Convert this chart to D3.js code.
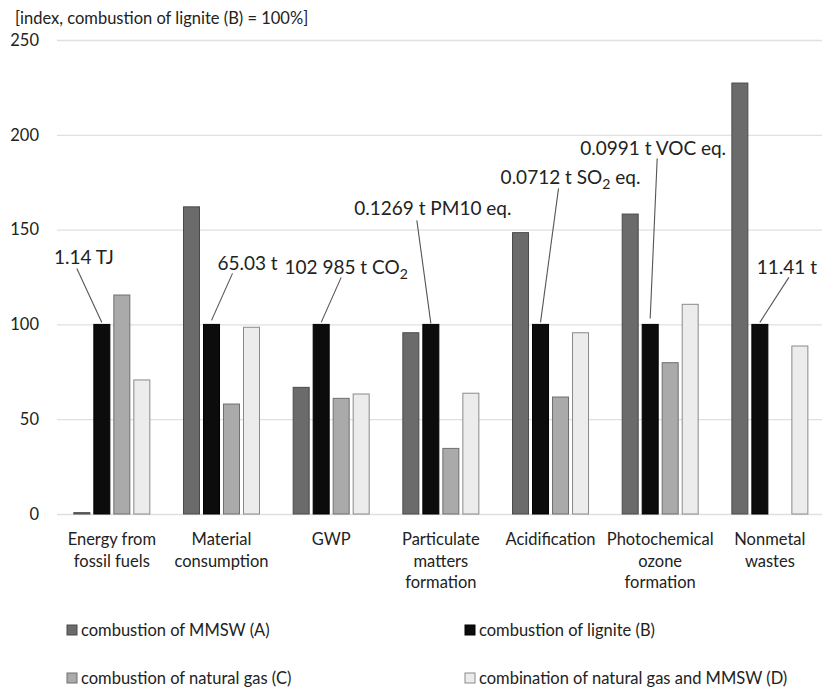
<!DOCTYPE html>
<html>
<head>
<meta charset="utf-8">
<script src="https://cdn.jsdelivr.net/npm/d3@7"></script>
<style>
  body { margin: 0; background: #fff; }
  text { font-family: Lato, "Open Sans", sans-serif; fill: #222; }
</style>
</head>
<body>
<div id="chart"></div>
<script>
// chart data
var categories = [
  ["Energy from", "fossil fuels"],
  ["Material", "consumption"],
  ["GWP"],
  ["Particulate", "matters", "formation"],
  ["Acidification"],
  ["Photochemical", "ozone", "formation"],
  ["Nonmetal", "wastes"]
];
var seriesNames = [
  "combustion of MMSW (A)",
  "combustion of lignite (B)",
  "combustion of natural gas (C)",
  "combination of natural gas and MMSW (D)"
];
var mmswValues = [0.7, 162, 66.8, 95.6, 148.4, 158.2, 227.3];
var ligniteValues = [100, 100, 100, 100, 100, 100, 100];
var gasValues = [115.5, 58, 61, 34.6, 61.7, 79.8, 0];
var mixValues = [70.7, 98.5, 63.3, 63.7, 95.6, 110.6, 88.6];
var yTicks = [0, 50, 100, 150, 200, 250];
// reference amounts written above the lignite bars
var refLabels = [
  ["1.14 TJ"],
  ["65.03 t"],
  ["102 985 t CO", "2", ""],
  ["0.1269 t PM10 eq."],
  ["0.0712 t SO", "2", " eq."],
  ["0.0991 t VOC eq."],
  ["11.41 t"]
];

var allValues = [mmswValues, ligniteValues, gasValues, mixValues];
var fills = ["#6b6b6b", "#0c0c0c", "#aaaaaa", "#ececec"];
var strokes = ["#4a4a4a", "#000", "#6f6f6f", "#8a8a8a"];

var svgWidth = 822;
var svgHeight = 688;

var svg = d3
  .select("#chart")
  .append("svg")
  .attr("width", svgWidth)
  .attr("height", svgHeight);

// scales
var xScale = d3
  .scaleBand()
  .domain(d3.range(categories.length))
  .range([57, 824.7]);

var x1 = d3
  .scaleBand()
  .domain(d3.range(seriesNames.length))
  .range([xScale.bandwidth() / 2 - 40, xScale.bandwidth() / 2 + 40])
  .paddingInner(0.2)
  .paddingOuter(0.1);

var yScale = d3.scaleLinear().domain([0, 250]).range([514, 40]);

// gridlines + y labels
var yAxis = svg
  .append("g")
  .attr("transform", "translate(57,0)")
  .call(
    d3.axisLeft(yScale)
      .tickValues(yTicks)
      .tickSize(-(svgWidth - 57))
      .tickPadding(18)
  );
yAxis.select(".domain").remove();
yAxis.selectAll(".tick line").attr("stroke", "#e0e0e0").attr("stroke-width", 1.3);
yAxis
  .selectAll(".tick text")
  .attr("font-size", 16.5)
  .attr("font-family", "Lato, sans-serif")
  .attr("fill", "#222");

svg
  .append("text")
  .attr("x", 15)
  .attr("y", 24)
  .attr("font-size", 16.5)
  .text("[index, combustion of lignite (B) = 100%]");

// bars
var groups = svg
  .selectAll("g.group")
  .data(categories)
  .enter()
  .append("g")
  .attr("class", "group")
  .attr("transform", (d, i) => `translate(${xScale(i)},0)`);

groups
  .selectAll("rect")
  .data((d, i) => allValues.map((vals, s) => ({ s: s, v: vals[i] })))
  .enter()
  .filter(d => d.v > 0)
  .append("rect")
  .attr("x", d => x1(d.s))
  .attr("width", x1.bandwidth())
  .attr("y", d => yScale(d.v))
  .attr("height", d => yScale(0) - yScale(d.v))
  .attr("fill", d => fills[d.s])
  .attr("stroke", d => strokes[d.s])
  .attr("stroke-width", 1);

// category labels
groups
  .append("text")
  .attr("text-anchor", "middle")
  .attr("font-size", 16.5)
  .selectAll("tspan")
  .data(d => d)
  .enter()
  .append("tspan")
  .attr("x", xScale.bandwidth() / 2)
  .attr("y", (d, i) => 545 + i * 21.5)
  .text(d => d);

// leader labels: [text dx, text dy, line start dx, line start dy, line end dy]
var leaderOffsets = [
  [-18, -67, -25, -56, -2],
  [36, -61, 21, -51, -4],
  [25, -57, 20, -47, -2],
  [2, -116, -14, -104, -1],
  [30, -147, 18, -136, -2],
  [3, -176, 7, -166, -6],
  [27, -57, 29, -47, -2]
];

refLabels.forEach(function(parts, i) {
  var cx = xScale(i) + x1(1) + x1.bandwidth() / 2;
  var top = yScale(ligniteValues[i]);
  var o = leaderOffsets[i];

  svg
    .append("line")
    .attr("x1", cx + o[2])
    .attr("y1", top + o[3])
    .attr("x2", cx)
    .attr("y2", top + o[4])
    .attr("stroke", "#555")
    .attr("stroke-width", 1.1);

  var t = svg
    .append("text")
    .attr("x", cx + o[0])
    .attr("y", top + o[1] + 7)
    .attr("text-anchor", "middle")
    .attr("font-size", 19);

  t.append("tspan").text(parts[0]);
  if (parts.length > 1) {
    t.append("tspan")
      .attr("font-size", 14)
      .attr("dy", 5)
      .text(parts[1]);
    t.append("tspan")
      .attr("dy", -5)
      .text(parts[2]);
  }
});

// legend
var legendPos = [[67, 630], [465, 630], [67, 678], [465, 678]];
var legend = svg
  .selectAll("g.legend")
  .data(seriesNames)
  .enter()
  .append("g")
  .attr("class", "legend")
  .attr("transform", (d, i) => `translate(${legendPos[i][0]},${legendPos[i][1]})`);

legend
  .append("rect")
  .attr("x", 0)
  .attr("y", -5)
  .attr("width", 10)
  .attr("height", 10)
  .attr("fill", (d, i) => fills[i])
  .attr("stroke", (d, i) => strokes[i]);

legend
  .append("text")
  .attr("x", 14)
  .attr("y", 5.5)
  .attr("font-size", 16.5)
  .text(d => d);
</script>
</body>
</html>
